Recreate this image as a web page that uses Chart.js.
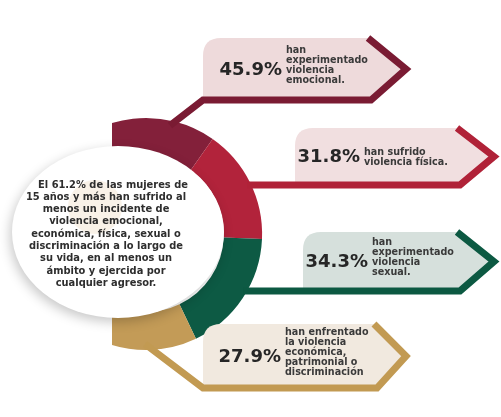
<!DOCTYPE html>
<html>
<head>
<meta charset="utf-8">
<script src="https://cdn.jsdelivr.net/npm/chart.js@4.4.1/dist/chart.umd.min.js"></script>
<style>
  html, body { margin: 0; padding: 0; background: #ffffff; }
  #chart { display: block; }
</style>
</head>
<body>
<canvas id="chart" width="501" height="417"></canvas>
<script>
var categories = ['violencia emocional', 'violencia física', 'violencia sexual', 'violencia económica, patrimonial o discriminación'];
var percentages = [45.9, 31.8, 34.3, 27.9];
var descriptions = [
  ['han', 'experimentado', 'violencia', 'emocional.'],
  ['han sufrido', 'violencia física.'],
  ['han', 'experimentado', 'violencia', 'sexual.'],
  ['han enfrentado', 'la violencia', 'económica,', 'patrimonial o', 'discriminación']
];
var centerLines = [
  'El 61.2% de las mujeres de',
  '15 años y más han sufrido al',
  'menos un incidente de',
  'violencia emocional,',
  'económica, física, sexual o',
  'discriminación a lo largo de',
  'su vida, en al menos un',
  'ámbito y ejercida por',
  'cualquier agresor.'
];

// colours
var ringColors = ['#83203a', '#b2233b', '#0d5a44', '#c39b57'];
var lineColors = ['#7a1b33', '#b02238', '#0c5942', '#c29a52'];
var fillColors = ['#eedadb', '#f1dfe0', '#d6e0dc', '#f1e9df'];

// callout boxes (top, bottom, left edge, chevron base, tip, text spots)
var boxes = [
  { top: 38,  bot: 100, left: 203, base: 371, tip: 406, descX: 286, descY: 50 },
  { top: 128, bot: 185, left: 295, base: 460, tip: 494, descX: 364, descY: 152 },
  { top: 232, bot: 291, left: 303, base: 460, tip: 494, descX: 372, descY: 242 },
  { top: 324, bot: 388, left: 203, base: 377, tip: 406, descX: 285, descY: 332 }
];

var overlay = {
  id: 'overlay',
  beforeDatasetsDraw: function(chart) {
    var ctx = chart.ctx;
    ctx.save();
    ctx.beginPath();
    ctx.rect(112, 0, chart.width, chart.height);
    ctx.clip();
  },
  afterDatasetsDraw: function(chart) {
    var ctx = chart.ctx;
    ctx.restore();
    var arc = chart.getDatasetMeta(0).data[0];
    var cx = arc.x, cy = arc.y, R = arc.outerRadius;
    function ringX(y) { return cx + Math.sqrt(R * R - (y - cy) * (y - cy)) - 4; }

    boxes.forEach(function(b, i) {
      var mid = (b.top + b.bot) / 2;
      var r = 18;
      // fill
      ctx.beginPath();
      ctx.moveTo(b.left, b.bot);
      ctx.lineTo(b.left, b.top + r);
      ctx.quadraticCurveTo(b.left, b.top, b.left + r, b.top);
      ctx.lineTo(b.base, b.top);
      ctx.lineTo(b.tip - 4, mid);
      ctx.lineTo(b.base, b.bot);
      ctx.closePath();
      ctx.fillStyle = fillColors[i];
      ctx.fill();

      // connector + chevron
      ctx.beginPath();
      if (i === 0) {
        ctx.moveTo(170, cy - Math.sqrt(R * R - (170 - cx) * (170 - cx)) + 5);
        ctx.lineTo(b.left, b.bot);
      } else if (i === 3) {
        ctx.moveTo(145, cy + Math.sqrt(R * R - (145 - cx) * (145 - cx)) - 6);
        ctx.lineTo(b.left, b.bot);
      } else {
        ctx.moveTo(ringX(b.bot), b.bot);
      }
      ctx.lineTo(b.base, b.bot);
      ctx.lineTo(b.tip, mid);
      ctx.lineTo(b.base - 3, b.top);
      ctx.lineWidth = 7;
      ctx.lineJoin = 'miter';
      ctx.strokeStyle = lineColors[i];
      ctx.stroke();

      // text
      ctx.fillStyle = '#262626';
      ctx.textBaseline = 'middle';
      ctx.textAlign = 'right';
      ctx.font = 'bold 18px "DejaVu Sans"';
      ctx.fillText(percentages[i].toFixed(1) + '%', b.descX - 4, mid + 1);
      ctx.textAlign = 'left';
      ctx.fillStyle = '#3a3a3a';
      ctx.font = 'bold 9.6px "DejaVu Sans"';
      descriptions[i].forEach(function(t, k) {
        ctx.fillText(t, b.descX, b.descY + k * 10);
      });
    });

    // white ellipse with the summary text
    ctx.save();
    ctx.shadowColor = 'rgba(0,0,0,0.22)';
    ctx.shadowBlur = 12;
    ctx.shadowOffsetX = -2;
    ctx.shadowOffsetY = 4;
    ctx.beginPath();
    ctx.ellipse(118, 232, 106, 86, 0, 0, Math.PI * 2);
    ctx.fillStyle = '#ffffff';
    ctx.fill();
    ctx.restore();

    // faint emblem behind the text
    ctx.beginPath();
    ctx.arc(95, 207, 27, 0, Math.PI * 2);
    ctx.fillStyle = 'rgba(226,196,150,0.22)';
    ctx.fill();

    ctx.fillStyle = '#2e2e2e';
    ctx.font = 'bold 9.9px "DejaVu Sans"';
    ctx.textAlign = 'center';
    ctx.textBaseline = 'middle';
    centerLines.forEach(function(t, k) {
      ctx.fillText(t, k === 0 ? 113 : 106, 185 + k * 12.3);
    });
  }
};

var ctx = document.getElementById('chart').getContext('2d');
var chart = new Chart(ctx, {
  type: 'doughnut',
  data: {
    labels: categories,
    datasets: [{
      data: percentages,
      backgroundColor: ringColors,
      borderWidth: 0
    }]
  },
  options: {
    responsive: false,
    animation: false,
    events: [],
    rotation: -48,
    circumference: 253,
    radius: 116,
    cutout: '67%',
    layout: { padding: { left: 61, right: 240, top: 118, bottom: 67 } },
    plugins: {
      legend: { display: false },
      tooltip: { enabled: false }
    }
  },
  plugins: [overlay]
});
</script>
</body>
</html>
